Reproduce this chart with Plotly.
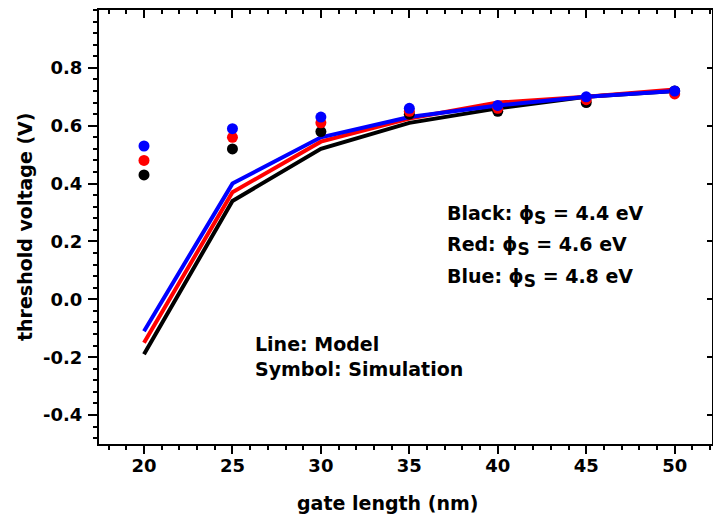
import plotly.graph_objects as go

# gate length (nm)
gate_length = [20, 25, 30, 35, 40, 45, 50]

# simulated threshold voltage (V), symbols
sim_black = [0.43, 0.52, 0.58, 0.64, 0.65, 0.68, 0.72]
sim_red = [0.48, 0.56, 0.61, 0.65, 0.66, 0.69, 0.71]
sim_blue = [0.53, 0.59, 0.63, 0.66, 0.67, 0.70, 0.72]

# model threshold voltage (V), lines
model_black = [-0.19, 0.34, 0.52, 0.61, 0.66, 0.70, 0.72]
model_red = [-0.15, 0.37, 0.545, 0.625, 0.68, 0.70, 0.725]
model_blue = [-0.11, 0.40, 0.56, 0.63, 0.67, 0.70, 0.72]

x_ticks = [20, 25, 30, 35, 40, 45, 50]
y_ticks = [-0.4, -0.2, 0.0, 0.2, 0.4, 0.6, 0.8]
y_tick_text = ["-0.4", "-0.2", "0.0", "0.2", "0.4", "0.6", "0.8"]

X_RANGE = [17.456, 52.11]
Y_RANGE = [-0.5, 1.0]

FONT = "DejaVu Sans"
colors = {"black": "#000000", "red": "#ff0000", "blue": "#0000ff"}

fig = go.Figure()

for name, ys in [("black", model_black), ("red", model_red), ("blue", model_blue)]:
    fig.add_trace(go.Scatter(x=gate_length, y=ys, mode="lines",
                             line=dict(color=colors[name], width=4),
                             showlegend=False, hoverinfo="skip"))

for name, ys in [("black", sim_black), ("red", sim_red), ("blue", sim_blue)]:
    fig.add_trace(go.Scatter(x=gate_length, y=ys, mode="markers",
                             marker=dict(color=colors[name], size=11, line=dict(width=0)),
                             showlegend=False, hoverinfo="skip"))

# empty trace so the top/right frame axes exist
fig.add_trace(go.Scatter(x=[], y=[], xaxis="x2", yaxis="y2", showlegend=False))

tick_font = dict(family=FONT, size=18, color="black", weight="bold")

fig.update_layout(
    width=713, height=519,
    margin=dict(l=99, r=1, t=10, b=75),
    paper_bgcolor="white", plot_bgcolor="white",
    showlegend=False,
    xaxis=dict(range=X_RANGE, tickmode="array", tickvals=x_ticks,
               ticks="outside", ticklen=8, tickwidth=2, tickcolor="black",
               minor=dict(ticks="outside", ticklen=4, tickwidth=2, tickcolor="black",
                          tick0=0, dtick=1, showgrid=False),
               showline=True, linewidth=2, linecolor="black",
               showgrid=False, zeroline=False, tickfont=tick_font,
               ticklabelstandoff=-4),
    yaxis=dict(range=Y_RANGE, tickmode="array", tickvals=y_ticks, ticktext=y_tick_text,
               ticks="outside", ticklen=9, tickwidth=2, tickcolor="black",
               minor=dict(ticks="outside", ticklen=4, tickwidth=2, tickcolor="black",
                          tick0=0, dtick=0.04, showgrid=False),
               showline=True, linewidth=2, linecolor="black",
               showgrid=False, zeroline=False, tickfont=tick_font,
               ticklabelstandoff=2),
    xaxis2=dict(range=X_RANGE, overlaying="x", side="top", anchor="y",
                tickmode="array", tickvals=x_ticks,
                ticks="inside", ticklen=8, tickwidth=2, tickcolor="black",
                minor=dict(ticks="inside", ticklen=4, tickwidth=2, tickcolor="black",
                           tick0=0, dtick=1, showgrid=False),
                showline=True, linewidth=2, linecolor="black",
                showgrid=False, zeroline=False, showticklabels=False),
    yaxis2=dict(range=Y_RANGE, overlaying="y", side="right", anchor="x",
                tickmode="array", tickvals=y_ticks,
                ticks="inside", ticklen=5, tickwidth=2, tickcolor="black",
                showline=True, linewidth=2, linecolor="black",
                showgrid=False, zeroline=False, showticklabels=False),
)

ann_font = dict(family=FONT, size=19, color="black", weight="bold")
phi = "ϕ<sub><span style='font-size:17px'>S</span></sub>"
labels = [
    (37.0, 0.293, f"Black: {phi} = 4.4 eV"),
    (37.0, 0.185, f"Red: {phi} = 4.6 eV"),
    (37.0, 0.075, f"Blue: {phi} = 4.8 eV"),
    (26.15, -0.156, "Line: Model"),
    (26.15, -0.24, "Symbol: Simulation"),
]
for x, y, t in labels:
    fig.add_annotation(x=x, y=y, xref="x", yref="y", text=t, showarrow=False,
                       xanchor="left", yanchor="middle", font=ann_font)

title_font = dict(family=FONT, size=19, color="black", weight="bold")
fig.add_annotation(text="threshold voltage (V)", x=(25 - 99) / 613, y=0.5,
                   xref="paper", yref="paper", showarrow=False, textangle=-90,
                   xanchor="center", yanchor="middle", font=title_font)
fig.add_annotation(text="gate length (nm)", x=0.47, y=-0.135, xref="paper", yref="paper",
                   showarrow=False, xanchor="center", yanchor="middle", font=title_font)

fig.write_html("out.html")
